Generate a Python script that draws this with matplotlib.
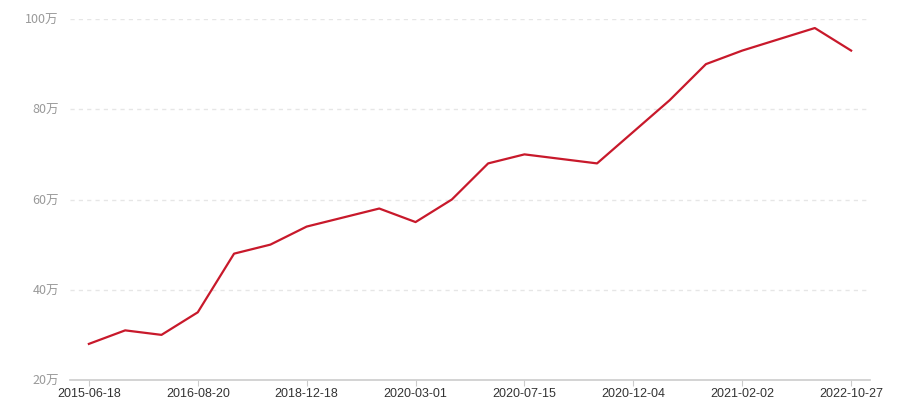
import matplotlib
matplotlib.use("Agg")
import matplotlib.pyplot as plt

plt.rcParams['font.family'] = ['Noto Sans CJK SC', 'DejaVu Sans']

# 日付ラベル（表示されているもののみ、3点おき）
tick_labels = ['2015-06-18', '2016-08-20', '2018-12-18', '2020-03-01',
               '2020-07-15', '2020-12-04', '2021-02-02', '2022-10-27']
# 値（万）
values = [28, 31, 30, 35, 48, 50, 54, 56, 58, 55, 60, 68, 70, 69, 68,
          75, 82, 90, 93, 95.5, 98, 93]
y_ticks = [20, 40, 60, 80, 100]

x = list(range(len(values)))
tick_pos = x[::3]

fig = plt.figure(figsize=(9, 4), dpi=100)
ax = fig.add_axes([70/900, 20/400, 800/900, 361/400])

ax.plot(x, values, color='#c8192b', linewidth=1.6, zorder=3)

ax.set_xlim(-0.52, len(values) - 1 + 0.52)
ax.set_ylim(20, 100)

# グリッド
for v in y_ticks[1:]:
    ax.axhline(v, color='#e6e6e6', linewidth=1, linestyle=(0, (3, 3)), zorder=1)

ax.set_yticks(y_ticks)
ax.set_yticklabels([f'{v}万' for v in y_ticks])
ax.set_xticks(tick_pos)
ax.set_xticklabels(tick_labels, family=['Liberation Sans', 'DejaVu Sans'])

for s in ['top', 'right', 'left']:
    ax.spines[s].set_visible(False)
ax.spines['bottom'].set_color('#cccccc')
ax.spines['bottom'].set_linewidth(1.2)

ax.tick_params(axis='y', length=0, pad=8, labelsize=9, labelcolor='#999999')
ax.tick_params(axis='x', length=4, color='#cccccc', pad=2, labelsize=9,
               labelcolor='#333333')

fig.savefig('out.png', dpi=100)
